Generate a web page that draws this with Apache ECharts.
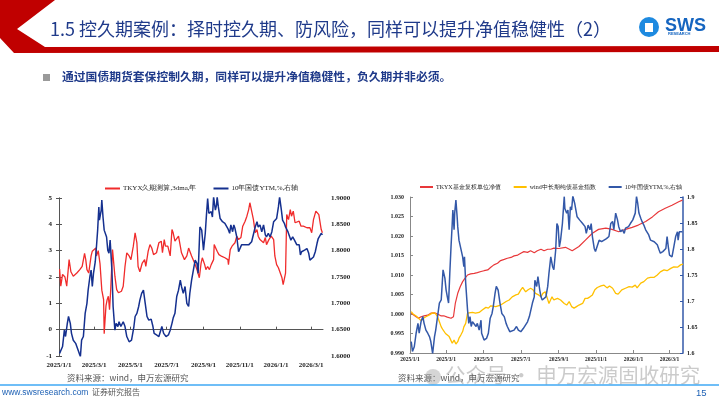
<!DOCTYPE html>
<html><head><meta charset="utf-8">
<script src="https://cdn.jsdelivr.net/npm/echarts@6/dist/echarts.min.js"></script>
<style>html,body{margin:0;padding:0;background:#fff}#c{width:719px;height:405px}</style>
</head><body><div id="c"></div><script>
// ---------- data (x = days since 2025/1/1) ----------
const xTickLabels = ['2025/1/1','2025/3/1','2025/5/1','2025/7/1','2025/9/1','2025/11/1','2026/1/1','2026/3/1'];
const leftNames = ['TKYX久期测算,3dma,年','10年国债YTM,%,右轴'];
const rightNames = ['TKYX基金复权单位净值','wind中长期纯债基金指数','10年国债YTM,%,右轴 '];

// Left chart: TKYX duration estimate (3dma, years)
const durDays = [1,3,6,10,13,17,20,24,30,35,39,43,45,47,50,54,56,59,62,63,66,69,72,75,76,79,81,83,85,87,90,91,94,97,100,105,108,111,114,118,121,125,128,131,133,136,140,144,146,150,153,156,159,162,164,168,172,174,177,179,183,187,190,192,195,198,201,204,206,211,215,218,220,223,228,232,236,239,241,245,247,250,253,256,260,261,264,266,269,274,279,284,285,288,291,293,296,299,302,306,309,313,316,319,321,324,327,330,333,335,338,341,344,347,349,353,357,361,363,366,369,372,375,377,379,381,383,386,389,391,394,397,400,404,407,411,417,422,425,428,432,435,437,441,443];
const durVals = [2.30,1.65,2.10,2.00,1.65,2.66,2.20,2.03,2.15,2.28,2.40,2.90,2.66,2.28,2.15,2.80,2.98,3.04,3.10,2.80,3.00,2.50,1.50,1.14,-0.15,0.90,1.14,1.27,0.76,1.52,3.04,2.80,2.03,1.52,1.40,1.46,1.65,2.40,2.92,2.80,2.66,3.17,3.68,3.30,2.40,2.20,2.53,2.66,2.40,2.98,3.23,3.10,2.85,2.80,2.92,3.30,3.36,2.92,3.42,3.17,3.17,2.80,3.80,3.68,3.36,3.42,3.55,3.17,2.92,2.66,2.80,3.10,3.10,2.80,2.53,2.28,1.97,2.53,2.73,2.47,2.28,2.40,2.28,2.47,2.66,3.23,3.30,2.98,2.85,2.78,2.73,2.66,2.47,3.04,3.17,3.10,3.30,3.55,3.42,3.50,3.93,4.12,4.31,4.56,4.82,4.84,4.18,3.68,3.80,3.55,3.42,3.42,3.30,3.50,3.23,3.42,3.55,3.42,2.80,2.47,2.35,2.28,1.97,1.71,1.71,2.15,4.37,4.18,4.56,4.31,4.50,4.06,3.99,4.12,3.93,3.93,3.87,3.87,3.68,4.18,4.50,4.56,4.37,3.80,3.68];

// Left chart: 10Y CGB YTM (%)
const ytmLDays = [1,3,6,9,11,14,16,19,21,24,28,31,34,36,38,41,44,47,49,52,54,56,58,61,63,65,67,68,71,72,74,76,79,80,82,84,86,89,91,94,96,99,101,104,108,111,114,118,122,126,128,131,134,136,139,142,145,148,151,155,158,160,164,168,173,176,180,184,187,190,192,195,198,201,204,206,209,212,215,218,220,223,226,229,232,234,237,240,243,246,248,250,252,256,258,260,263,265,266,268,271,275,279,284,287,289,292,294,296,299,302,305,307,310,313,316,319,321,324,327,330,333,335,338,341,344,347,349,352,355,358,361,363,366,369,371,374,376,379,381,385,388,390,393,396,400,404,406,408,413,417,420,422,425,428,431,434,436,439,441,443];
const ytmLVals = [1.605,1.602,1.618,1.649,1.637,1.662,1.675,1.662,1.643,1.630,1.624,1.621,1.605,1.599,1.630,1.637,1.681,1.700,1.725,1.751,1.763,1.732,1.757,1.779,1.808,1.839,1.883,1.858,1.877,1.896,1.864,1.839,1.842,1.826,1.801,1.795,1.820,1.763,1.694,1.649,1.662,1.656,1.665,1.656,1.665,1.656,1.637,1.627,1.630,1.656,1.675,1.681,1.694,1.706,1.719,1.725,1.700,1.675,1.668,1.670,1.656,1.643,1.640,1.637,1.656,1.643,1.637,1.640,1.649,1.662,1.672,1.681,1.713,1.725,1.744,1.732,1.719,1.732,1.700,1.694,1.719,1.744,1.763,1.782,1.776,1.757,1.845,1.839,1.801,1.833,1.868,1.899,1.871,1.874,1.864,1.902,1.877,1.887,1.902,1.883,1.861,1.855,1.852,1.842,1.833,1.849,1.836,1.849,1.842,1.826,1.798,1.795,1.811,1.814,1.811,1.814,1.811,1.814,1.817,1.820,1.845,1.855,1.845,1.849,1.836,1.849,1.830,1.826,1.833,1.826,1.836,1.855,1.855,1.861,1.883,1.902,1.877,1.858,1.852,1.845,1.836,1.833,1.820,1.826,1.820,1.811,1.811,1.792,1.798,1.801,1.804,1.795,1.782,1.779,1.788,1.798,1.814,1.823,1.820,1.833,1.830];

// Right chart: TKYX adjusted NAV
const navDays = [2,5,10,14,18,23,29,34,40,45,51,56,61,67,71,74,78,82,86,90,94,99,105,110,116,121,127,132,137,143,148,154,159,165,170,176,181,186,192,197,203,208,214,219,225,230,235,243,254,265,276,287,298,308,320,330,341,352,363,373,385,396,406,417,428,439,445];
const navVals = [1.0002,0.9997,0.9993,0.9989,0.9993,0.9995,0.9997,1.0002,1.0003,1.0000,0.9995,0.9995,0.9992,0.9989,0.9993,1.0027,1.0053,1.0070,1.0083,1.0092,1.0100,1.0103,1.0104,1.0106,1.0109,1.0111,1.0113,1.0120,1.0126,1.0130,1.0137,1.0140,1.0143,1.0145,1.0149,1.0151,1.0156,1.0160,1.0158,1.0162,1.0157,1.0162,1.0166,1.0162,1.0166,1.0166,1.0169,1.0168,1.0171,1.0162,1.0173,1.0190,1.0207,1.0217,1.0220,1.0217,1.0211,1.0217,1.0222,1.0228,1.0237,1.0249,1.0262,1.0271,1.0279,1.0288,1.0292];

// Right chart: wind medium/long-term pure bond fund index (normalised)
const idxDays = [2,5,10,14,18,22,26,31,37,41,45,48,51,54,58,61,64,67,69,72,75,78,80,83,86,88,91,94,97,102,107,113,118,124,128,132,135,140,144,148,152,157,162,167,173,177,181,184,186,189,193,197,201,205,210,214,217,221,227,232,235,241,246,252,256,260,264,268,272,276,282,286,290,294,298,302,306,312,317,322,326,331,336,340,346,352,358,363,368,371,377,382,388,393,399,404,409,415,420,426,431,437,442,446];
const idxVals = [1.0006,1.0000,0.9995,0.9989,0.9983,0.9989,0.9993,0.9997,1.0003,1.0002,0.9993,0.9980,0.9967,0.9959,0.9950,0.9949,0.9942,0.9938,0.9925,0.9933,0.9923,0.9929,0.9938,0.9946,0.9955,0.9967,0.9976,1.0002,1.0006,1.0004,1.0002,1.0004,1.0010,1.0017,1.0015,1.0021,1.0023,1.0019,1.0021,1.0023,1.0027,1.0032,1.0036,1.0044,1.0049,1.0051,1.0062,1.0068,1.0066,1.0057,1.0062,1.0066,1.0062,1.0053,1.0049,1.0044,1.0053,1.0057,1.0027,1.0044,1.0036,1.0040,1.0036,1.0027,1.0023,1.0032,1.0019,1.0015,1.0019,1.0023,1.0027,1.0040,1.0040,1.0044,1.0049,1.0062,1.0068,1.0072,1.0074,1.0067,1.0072,1.0066,1.0053,1.0051,1.0062,1.0066,1.0070,1.0069,1.0074,1.0067,1.0079,1.0083,1.0092,1.0094,1.0094,1.0100,1.0108,1.0113,1.0111,1.0117,1.0121,1.0120,1.0126,1.0128];

// Right chart: 10Y CGB YTM (%)
const ytmRDays = [2,4,7,10,13,15,18,21,23,26,29,32,34,37,40,42,45,48,51,52,54,57,59,61,63,65,67,69,70,72,73,75,77,78,80,83,86,88,89,91,94,96,98,100,102,105,108,110,113,116,117,121,125,128,131,134,136,139,141,144,147,150,154,157,159,163,166,170,174,177,181,185,188,192,195,197,200,203,204,207,209,212,214,216,222,225,227,230,233,235,238,240,242,244,246,249,252,253,256,258,260,262,264,266,269,271,273,277,282,286,288,291,294,296,298,301,303,306,309,313,317,321,325,328,331,333,336,339,341,344,347,350,352,357,360,364,368,370,372,374,377,379,382,385,388,390,393,396,399,401,404,407,409,413,418,420,422,424,426,428,431,434,437,438,440,443,445];
const ytmRVals = [1.622,1.603,1.612,1.638,1.657,1.638,1.660,1.670,1.657,1.644,1.638,1.631,1.622,1.599,1.631,1.644,1.670,1.696,1.702,1.721,1.760,1.744,1.721,1.708,1.696,1.753,1.804,1.849,1.875,1.837,1.869,1.894,1.862,1.843,1.817,1.814,1.785,1.766,1.785,1.734,1.683,1.657,1.670,1.651,1.660,1.657,1.651,1.657,1.644,1.663,1.638,1.625,1.628,1.638,1.667,1.676,1.689,1.715,1.728,1.721,1.696,1.676,1.670,1.657,1.651,1.641,1.638,1.644,1.651,1.644,1.641,1.647,1.644,1.660,1.670,1.667,1.696,1.708,1.740,1.728,1.747,1.721,1.708,1.702,1.708,1.728,1.753,1.785,1.766,1.760,1.798,1.849,1.843,1.804,1.817,1.849,1.901,1.878,1.869,1.875,1.837,1.881,1.875,1.902,1.888,1.885,1.862,1.856,1.849,1.843,1.830,1.846,1.837,1.849,1.824,1.801,1.795,1.798,1.817,1.814,1.817,1.820,1.824,1.849,1.853,1.837,1.869,1.856,1.843,1.833,1.837,1.830,1.840,1.843,1.849,1.856,1.869,1.901,1.888,1.869,1.859,1.853,1.846,1.837,1.840,1.827,1.817,1.820,1.814,1.817,1.808,1.798,1.792,1.795,1.801,1.824,1.804,1.788,1.785,1.785,1.804,1.824,1.833,1.817,1.833,1.830,1.833];

// ---------- helpers ----------
function dayOf(s){const p=s.split('/').map(Number);return (Date.UTC(p[0],p[1]-1,p[2])-Date.UTC(2025,0,1))/864e5;}
const tickDays = xTickLabels.map(dayOf);
function lab(v){const i=tickDays.indexOf(v);return i>=0?xTickLabels[i]:'';}
function pairs(d,v){return d.map((x,i)=>[x,v[i]]);}

const serif = 'Liberation Serif';
const axisLbl = {fontFamily:serif,fontSize:7,fontWeight:'bold',color:'#222'};

const chart = echarts.init(document.getElementById('c'),null,{renderer:'canvas'});
chart.setOption({
  animation:false,
  backgroundColor:'#fff',
  grid:[{left:59,right:396,top:198,bottom:49},{left:410,right:36,top:197,bottom:52}],
  legend:[
    {data:leftNames,left:100,top:180,itemWidth:15,itemHeight:2,itemGap:17,icon:'rect',
     textStyle:{fontFamily:serif,fontSize:7,color:'#222',padding:[0,0,0,-2]}},
    {data:rightNames,left:415,top:179,itemWidth:13,itemHeight:2,itemGap:13,icon:'rect',
     textStyle:{fontFamily:serif,fontSize:6,color:'#222',padding:[0,0,0,-2]}}
  ],
  xAxis:[
    {gridIndex:0,type:'value',min:0,max:444,axisLine:{show:false,onZero:false},axisTick:{show:false},splitLine:{show:false},
     axisLabel:Object.assign({customValues:tickDays,formatter:lab,margin:6},axisLbl)},
    {gridIndex:0,type:'value',min:0,max:444,position:'bottom',
     axisLine:{show:true,onZero:true,onZeroAxisIndex:0,lineStyle:{color:'#555',width:1}},
     axisTick:{show:true,inside:true,length:3,customValues:tickDays,lineStyle:{color:'#555'}},
     axisLabel:{show:false,customValues:tickDays},splitLine:{show:false}},
    {gridIndex:1,type:'value',min:0,max:446,
     axisLine:{show:true,onZero:false,lineStyle:{color:'#888',width:1}},
     axisTick:{show:true,inside:true,length:3,customValues:tickDays,lineStyle:{color:'#888'}},
     splitLine:{show:false},
     axisLabel:Object.assign({},axisLbl,{customValues:tickDays,formatter:lab,margin:4,fontSize:5.5})}
  ],
  yAxis:[
    {gridIndex:0,type:'value',min:-1,max:5,interval:1,position:'left',
     axisLine:{show:true,lineStyle:{color:'#555'}},axisTick:{show:true,inside:true,length:3,lineStyle:{color:'#555'}},
     splitLine:{show:false},axisLabel:Object.assign({margin:7},axisLbl)},
    {gridIndex:0,type:'value',min:1.6,max:1.9,interval:0.05,position:'right',
     axisLine:{show:true,lineStyle:{color:'#555'}},axisTick:{show:true,inside:true,length:3,lineStyle:{color:'#555'}},
     splitLine:{show:false},axisLabel:Object.assign({margin:8,formatter:v=>v.toFixed(4)},axisLbl)},
    {gridIndex:1,type:'value',min:0.99,max:1.03,interval:0.005,position:'left',
     axisLine:{show:true,lineStyle:{color:'#888'}},axisTick:{show:true,inside:true,length:3,lineStyle:{color:'#888'}},
     splitLine:{show:false},axisLabel:Object.assign({},axisLbl,{margin:6,fontSize:6,formatter:v=>v.toFixed(3)})},
    {gridIndex:1,type:'value',min:1.6,max:1.9,interval:0.05,position:'right',
     axisLine:{show:true,lineStyle:{color:'#3358A8',width:1.5}},axisTick:{show:true,inside:true,length:3,lineStyle:{color:'#3358A8'}},
     splitLine:{show:false},axisLabel:Object.assign({},axisLbl,{margin:4,fontSize:6})}
  ],
  series:[
    {name:leftNames[0],type:'line',xAxisIndex:0,yAxisIndex:0,data:pairs(durDays,durVals),showSymbol:false,
     lineStyle:{color:'#F02B2B',width:1.3},itemStyle:{color:'#F02B2B'}},
    {name:leftNames[1],type:'line',xAxisIndex:0,yAxisIndex:1,data:pairs(ytmLDays,ytmLVals),showSymbol:false,
     lineStyle:{color:'#15308F',width:1.5},itemStyle:{color:'#15308F'}},
    {name:rightNames[0],type:'line',xAxisIndex:2,yAxisIndex:2,data:pairs(navDays,navVals),showSymbol:false,
     lineStyle:{color:'#E8383A',width:1.2},itemStyle:{color:'#E8383A'}},
    {name:rightNames[1],type:'line',xAxisIndex:2,yAxisIndex:2,data:pairs(idxDays,idxVals),showSymbol:false,
     lineStyle:{color:'#FFC000',width:1.3},itemStyle:{color:'#FFC000'}},
    {name:rightNames[2],type:'line',xAxisIndex:2,yAxisIndex:3,data:pairs(ytmRDays,ytmRVals),showSymbol:false,
     lineStyle:{color:'#3358A8',width:1.5},itemStyle:{color:'#3358A8'}}
  ],
  graphic:[
    {type:'polygon',shape:{points:[[0,0],[55,0],[17,29],[45,47],[719,46],[719,52],[14,53],[0,38]]},style:{fill:'#C00000'}},
    {type:'text',left:50,top:20,style:{text:'1.5 控久期案例：择时控久期、防风险，同样可以提升净值稳健性（2）',font:'18px "Noto Sans CJK SC"',fill:'#1F3A8A'}},
    {type:'circle',shape:{cx:649,cy:27,r:10},style:{fill:'#1E8AE0'}},
    {type:'rect',shape:{x:645,y:23,width:8,height:9},style:{fill:'#fff'}},
    {type:'text',left:665,top:17,style:{text:'SWS',font:'bold 18px "Liberation Sans"',fill:'#1565C0'}},
    {type:'text',left:668,top:32,style:{text:'RESEARCH',font:'bold 4px "Liberation Sans"',fill:'#1565C0'}},
    {type:'rect',shape:{x:43,y:74,width:7,height:7},style:{fill:'#9a9a9a'}},
    {type:'text',left:62,top:71,style:{text:'通过国债期货套保控制久期，同样可以提升净值稳健性，负久期并非必须。',font:'bold 11.8px "Noto Sans CJK SC"',fill:'#1F3A8A'}},
    {type:'text',left:67,top:374,style:{text:'资料来源：wind，申万宏源研究',font:'8.5px "Noto Sans CJK SC"',fill:'#555'}},
    {type:'text',left:398,top:374,style:{text:'资料来源：wind，申万宏源研究',font:'8.5px "Noto Sans CJK SC"',fill:'#555'}},
    {type:'circle',shape:{cx:433,cy:377,r:8},style:{fill:'rgba(150,150,150,0.4)'}},
    {type:'text',left:445,top:365,style:{text:'公众号 · 申万宏源固收研究',font:'20.5px "Noto Sans CJK SC"',fill:'rgba(140,140,140,0.45)'}},
    {type:'line',shape:{x1:0,y1:385,x2:719,y2:385},style:{stroke:'#3FA9F5',lineWidth:1.5}},
    {type:'text',left:2,top:388,style:{text:'www.swsresearch.com',font:'8.5px "Liberation Sans"',fill:'#1F62B5'}},
    {type:'text',left:92,top:388,style:{text:'证券研究报告',font:'8px "Noto Sans CJK SC"',fill:'#555'}},
    {type:'text',left:696,top:388,style:{text:'15',font:'9.5px "Liberation Sans"',fill:'#1F62B5'}}
  ]
});
</script></body></html>
